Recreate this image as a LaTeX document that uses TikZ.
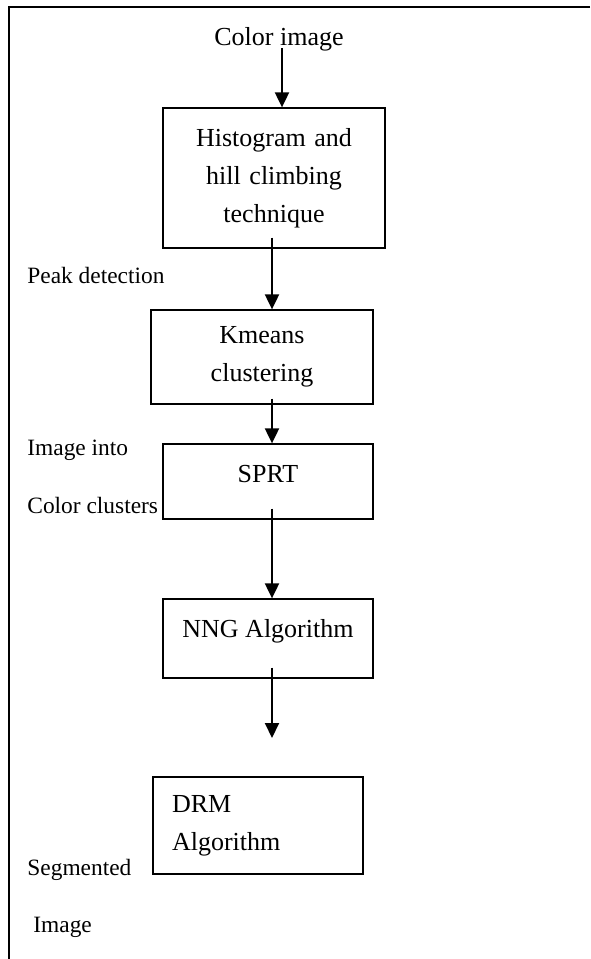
\documentclass[tikz,border=0pt]{standalone}
\usepackage{fontspec}
\setmainfont{Liberation Serif}
\usetikzlibrary{arrows.meta}

\begin{document}
\begin{tikzpicture}[x=0.5pt, y=-0.5pt,
    box/.style={draw, line width=0.65pt, inner sep=0pt, font=\fontsize{13}{19}\selectfont},
    flow/.style={-{Triangle[length=7.5pt,width=7pt]}, line width=1pt},
    note/.style={anchor=base west, inner sep=0pt, font=\fontsize{11.7}{14}\selectfont}]
    \useasboundingbox (0,0) rectangle (590,959);

% frame
    \draw[line width=0.85pt] (590,7) -- (9,7) -- (9,959);

% input
    \node[anchor=base, inner sep=0pt, font=\fontsize{13}{19}\selectfont] (input) at (279,45) {Color image};

% boxes
    \node[box, minimum width=111pt, minimum height=70pt, text width=100pt, align=center] (hist) at (274,178)
        {Histogram and\\hill climbing\\technique};
    \node[box, minimum width=111pt, minimum height=47pt, text width=100pt, align=center] (kmeans) at (262,357)
        {Kmeans\\clustering};
    \node[box, anchor=base, minimum width=105pt, text height=19pt, text depth=18.5pt] (sprt) at (268,482) {SPRT};
    \node[box, anchor=base, minimum width=105pt, text height=19pt, text depth=20.5pt] (nng) at (268,637) {NNG Algorithm};
    \node[box, minimum width=105pt, minimum height=48.5pt, text width=86pt, align=left] (drm) at (258,825.5)
        {DRM\\Algorithm};

% side notes
    \node[note] (peak) at (27,283) {Peak detection};
    \node[note] (into) at (27,455) {Image into};
    \node[note] (clusters) at (27,513) {Color clusters};
    \node[note] (segm) at (27,875) {Segmented};
    \node[note] (segimg) at (33,932) {Image};

% arrows
    \coordinate (drmin) at (272,738);
    \draw[flow] ([xshift=1.5pt,yshift=1.5pt]input.south) -- ([xshift=4pt]hist.north);
    \draw[flow] ([xshift=-1pt,yshift=5.5pt]hist.south) -- ([xshift=5pt]kmeans.north);
    \draw[flow] ([xshift=5pt,yshift=3pt]kmeans.south) -- ([xshift=2pt]sprt.north);
    \draw[flow] ([xshift=2pt,yshift=5.5pt]sprt.south) -- ([xshift=2pt]nng.north);
    \draw[flow] ([xshift=2pt,yshift=5.5pt]nng.south) -- (drmin);
\end{tikzpicture}
\end{document}
